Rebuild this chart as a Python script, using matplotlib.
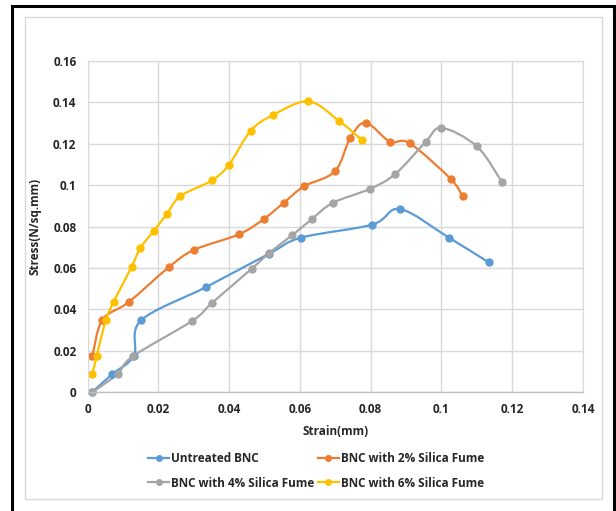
import matplotlib
matplotlib.use('Agg')
import matplotlib.pyplot as plt
from matplotlib.path import Path
from matplotlib.patches import PathPatch, Rectangle
from matplotlib.lines import Line2D
import numpy as np

plt.rcParams['font.family'] = ['Open Sans', 'DejaVu Sans']
plt.rcParams['font.weight'] = 'bold'

# stress-strain readings
untreated_x = [0.0013, 0.0070, 0.0131, 0.0151, 0.0336, 0.0514, 0.0604, 0.0805, 0.0883, 0.1021, 0.1134]
untreated_y = [0.0, 0.0088, 0.0176, 0.0347, 0.0509, 0.0670, 0.0747, 0.0810, 0.0885, 0.0747, 0.0627]

sf2_x = [0.0014, 0.0042, 0.0116, 0.0229, 0.0300, 0.0428, 0.0499, 0.0555, 0.0612, 0.0699, 0.0742, 0.0786, 0.0854, 0.0910, 0.1026, 0.1060]
sf2_y = [0.0176, 0.0350, 0.0435, 0.0603, 0.0687, 0.0763, 0.0838, 0.0916, 0.0995, 0.1067, 0.1227, 0.1302, 0.1211, 0.1203, 0.1031, 0.0946]

sf4_x = [0.0013, 0.0085, 0.0128, 0.0296, 0.0352, 0.0464, 0.0514, 0.0578, 0.0635, 0.0693, 0.0799, 0.0870, 0.0955, 0.1000, 0.1100, 0.1170]
sf4_y = [0.0, 0.0088, 0.0174, 0.0345, 0.0432, 0.0597, 0.0674, 0.0758, 0.0838, 0.0915, 0.0983, 0.1055, 0.1208, 0.1277, 0.1188, 0.1018]

sf6_x = [0.0014, 0.0026, 0.0052, 0.0074, 0.0125, 0.0149, 0.0188, 0.0224, 0.0262, 0.0351, 0.0400, 0.0461, 0.0523, 0.0624, 0.0711, 0.0775]
sf6_y = [0.0088, 0.0176, 0.0350, 0.0438, 0.0607, 0.0696, 0.0781, 0.0861, 0.0947, 0.1023, 0.1100, 0.1263, 0.1338, 0.1405, 0.1310, 0.1219]

series_names = ['Untreated BNC', 'BNC with 2% Silica Fume',
                'BNC with 4% Silica Fume', 'BNC with 6% Silica Fume']
colors = ['#5B9BD5', '#ED7D31', '#A5A5A5', '#FFC000']

x_ticks = [0, 0.02, 0.04, 0.06, 0.08, 0.1, 0.12, 0.14]
x_ticklabels = ['0', '0.02', '0.04', '0.06', '0.08', '0.1', '0.12', '0.14']
y_ticks = [0, 0.02, 0.04, 0.06, 0.08, 0.1, 0.12, 0.14, 0.16]
y_ticklabels = ['0', '0.02', '0.04', '0.06', '0.08', '0.1', '0.12', '0.14', '0.16']


def smooth_path(xs, ys, trans):
    # Catmull-Rom style bezier through the points, built in display space
    pts = trans.transform(np.column_stack([xs, ys]))
    n = len(pts)
    verts = [pts[0]]
    codes = [Path.MOVETO]
    for i in range(n - 1):
        p0 = pts[max(i - 1, 0)]
        p1 = pts[i]
        p2 = pts[i + 1]
        p3 = pts[min(i + 2, n - 1)]
        c1 = p1 + (p2 - p0) / 6.0
        c2 = p2 - (p3 - p1) / 6.0
        verts += [c1, c2, p2]
        codes += [Path.CURVE4] * 3
    return Path(verts, codes)


fig = plt.figure(figsize=(6.16, 5.11), dpi=100)
ax = fig.add_axes([87.5 / 616, 1 - 392.3 / 511, 495.5 / 616, 331.3 / 511])

ax.set_xlim(0, 0.14)
ax.set_ylim(0, 0.16)
ax.set_xticks(x_ticks)
ax.set_xticklabels(x_ticklabels, fontweight='bold')
ax.set_yticks(y_ticks)
ax.set_yticklabels(y_ticklabels, fontweight='bold')
ax.tick_params(length=0, labelsize=8.5, labelcolor='#262626', pad=8)
ax.grid(True, color='#d9d9d9', lw=1)
ax.set_axisbelow(True)
for side in ['left', 'top', 'right']:
    ax.spines[side].set_color('#d9d9d9')
ax.spines['bottom'].set_color('#bfbfbf')
ax.spines['bottom'].set_linewidth(1)

fig.canvas.draw()
data = [(untreated_x, untreated_y), (sf2_x, sf2_y), (sf4_x, sf4_y), (sf6_x, sf6_y)]
handles = []
for (xs, ys), c, name in zip(data, colors, series_names):
    path = smooth_path(xs, ys, ax.transData)
    ax.add_patch(PathPatch(path, facecolor='none', edgecolor=c, lw=1.6,
                           transform=None, clip_on=True))
    ax.plot(xs, ys, ls='none', marker='o', ms=5, color=c, clip_on=False)
    handles.append(Line2D([], [], color=c, lw=1.6, marker='o', ms=4, label=name))

ax.set_xlabel('Strain(mm)', fontsize=8.5, fontweight='bold', color='#262626', labelpad=6)
ax.set_ylabel('Stress(N/sq.mm)', fontsize=8.5, fontweight='bold', color='#262626', labelpad=8)

# legend filled row by row
order = [0, 2, 1, 3]
fig.legend(handles=[handles[i] for i in order], loc='center',
           bbox_to_anchor=(316 / 616, 1 - 471 / 511),
           ncol=2, frameon=False, handlelength=1.8, handletextpad=0.15,
           columnspacing=0.3, labelspacing=0.95, labelcolor='#262626',
           prop={'size': 8.5, 'weight': 'bold'})

# chart frame and outer border
fig.patches.append(Rectangle((25 / 616, 1 - 499 / 511), 577 / 616, 482 / 511,
                             transform=fig.transFigure, fill=False,
                             edgecolor='#d9d9d9', lw=1))
fig.patches.append(Rectangle((12 / 616, -0.05), 602 / 616, 1 - 6 / 511 + 0.05,
                             transform=fig.transFigure, fill=False,
                             edgecolor='black', lw=2.2))

fig.savefig('out.png', dpi=100)
